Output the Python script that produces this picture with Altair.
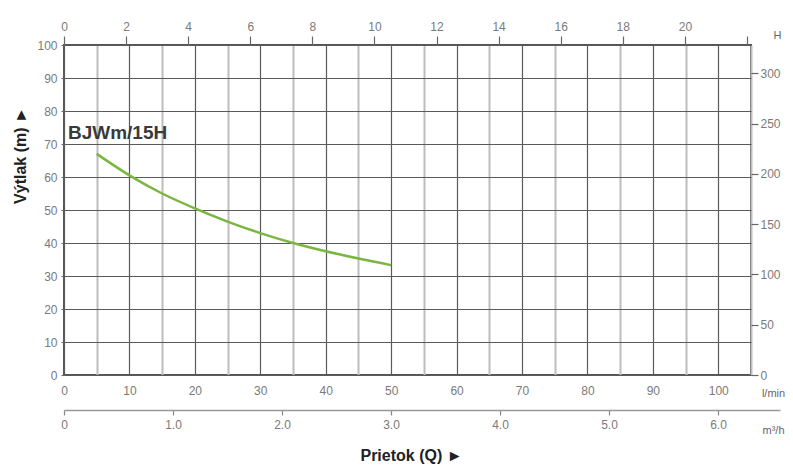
import altair as alt
import pandas as pd

# ---- data ----
q_lmin = [5, 10, 15, 20, 25, 30, 35, 40, 45, 50]
h_m = [67, 60.5, 55, 50.5, 46.5, 43, 40, 37.5, 35.3, 33.3]
model_name = ["BJWm/15H"]
model_q = [0.6]
model_h = [73.3]
lmin_ticks = list(range(0, 106, 5))
m_ticks = list(range(0, 101, 10))
top_ticks = list(range(0, 23, 2))
m3h_ticks = [0, 1, 2, 3, 4, 5, 6]
ft_ticks = [0, 50, 100, 150, 200, 250, 300]

FONT = "Liberation Sans"
LBL = "#7a7a7a"
DARK = "#5a5a5a"
LIGHT = "#bdbdbd"

curve_df = pd.DataFrame({"q": q_lmin, "h": h_m})
label_df = pd.DataFrame({"q": model_q, "h": model_h, "t": model_name})
top_df = pd.DataFrame({"t": top_ticks})
m3h_df = pd.DataFrame({"v": m3h_ticks})
ft_df = pd.DataFrame({"f": ft_ticks})

x_main = alt.X(
    "q:Q",
    scale=alt.Scale(domain=[0, 105], nice=False, zero=True),
    axis=alt.Axis(
        values=lmin_ticks,
        labelExpr="datum.value % 10 === 0 && datum.value <= 100 ? datum.label : ''",
        ticks=False, domain=False, labelPadding=10, labelFlush=False,
        labelFont=FONT, labelFontSize=12, labelColor=LBL,
        grid=True,
        gridColor={"condition": {"test": "datum.value % 10 === 0", "value": DARK}, "value": LIGHT},
        gridWidth={"condition": {"test": "datum.value % 10 === 0", "value": 1.2}, "value": 2},
        title="l/min", titleX=709, titleY=18, titleAlign="center", titleBaseline="middle",
        titleFont=FONT, titleFontSize=11, titleFontWeight="normal", titleColor="#666",
    ),
)
y_main = alt.Y(
    "h:Q",
    scale=alt.Scale(domain=[0, 100], nice=False),
    axis=alt.Axis(
        values=m_ticks, tickSize=3, tickColor="#666", domain=False,
        labelPadding=4, labelFlush=False,
        labelFont=FONT, labelFontSize=12, labelColor=LBL,
        grid=True, gridColor=DARK, gridWidth=1.2,
        title="Výtlak (m) ►", titleX=-44, titleY=110, titleAngle=270,
        titleAlign="center", titleBaseline="middle",
        titleFont=FONT, titleFontSize=16, titleFontWeight="bold", titleColor="#222",
    ),
)

curve = alt.Chart(curve_df).mark_line(
    color="#7ab640", strokeWidth=2.5, interpolate="monotone"
).encode(x=x_main, y=y_main)

label = alt.Chart(label_df).mark_text(
    align="left", baseline="middle", font=FONT, fontSize=19,
    fontWeight="bold", color="#3a3a3a"
).encode(x=x_main, y=y_main, text="t:N")

main = alt.layer(curve, label)

top_layer = alt.Chart(top_df).mark_tick(opacity=0).encode(
    x=alt.X(
        "t:Q",
        scale=alt.Scale(domain=[0, 22.13], nice=False, zero=True),
        axis=alt.Axis(
            orient="top", values=top_ticks,
            labelExpr="datum.value <= 20 ? datum.label : ''",
            tickSize=9, tickColor="#666", tickWidth=1.2, domain=False,
            labelPadding=3, labelFlush=False,
            labelFont=FONT, labelFontSize=12, labelColor=LBL, title=None,
        ),
    ),
    y=alt.value(0),
)

m3h_layer = alt.Chart(m3h_df).mark_tick(opacity=0).encode(
    x=alt.X(
        "v:Q",
        scale=alt.Scale(domain=[0, 6.569], range=[0, 716], nice=False, zero=True),
        axis=alt.Axis(
            orient="bottom", offset=35, values=m3h_ticks, format=".1f",
            labelExpr="datum.value === 0 ? '0' : datum.label",
            tickSize=5, tickColor="#888", tickWidth=1.2,
            domain=True, domainColor="#999", domainWidth=1.5,
            labelPadding=4, labelFlush=False,
            labelFont=FONT, labelFontSize=12, labelColor=LBL,
            title="m³/h", titleX=709, titleY=20, titleAlign="center", titleBaseline="middle",
            titleFont=FONT, titleFontSize=11, titleFontWeight="normal", titleColor="#666",
        ),
    ),
    y=alt.value(0),
)

ft_layer = alt.Chart(ft_df).mark_tick(opacity=0).encode(
    y=alt.Y(
        "f:Q",
        scale=alt.Scale(domain=[0, 328.08], nice=False, zero=True),
        axis=alt.Axis(
            orient="right", values=ft_ticks, tickSize=7, tickColor="#666",
            tickWidth=1.2, domain=False, labelPadding=2, labelFlush=False,
            labelFont=FONT, labelFontSize=12, labelColor=LBL,
            title="H", titleX=26, titleY=-10, titleAngle=0,
            titleAlign="center", titleBaseline="middle",
            titleFont=FONT, titleFontSize=11, titleFontWeight="normal", titleColor="#666",
        ),
    ),
    x=alt.value(0),
)

chart = (
    alt.layer(main, top_layer, m3h_layer, ft_layer)
    .resolve_scale(x="independent", y="independent")
    .properties(
        width=687, height=330,
        autosize=alt.AutoSizeParams(type="none"),
        padding={"left": 56, "top": 37, "right": 34, "bottom": 94},
        title=alt.TitleParams(
            "Prietok (Q) ►", orient="bottom", anchor="middle", dx=4, offset=13,
            font=FONT, fontSize=16, fontWeight="bold", color="#222",
        ),
        background="white",
    )
    .configure_view(stroke="#555", strokeWidth=2)
)

chart.save("out.html", embed_options={"renderer": "svg", "actions": False})
